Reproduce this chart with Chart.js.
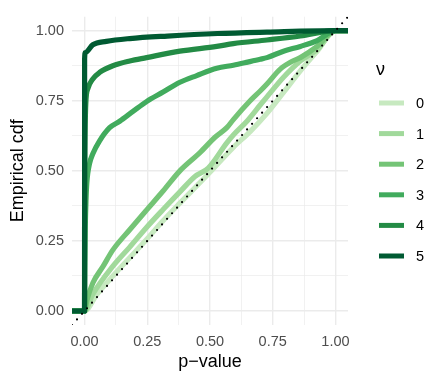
<!DOCTYPE html>
<html>
<head>
<meta charset="utf-8">
<script src="https://cdn.jsdelivr.net/npm/chart.js@4.4.0/dist/chart.umd.min.js"></script>
<style>
  html, body { margin: 0; padding: 0; background: #fff; }
</style>
</head>
<body>
<canvas id="chart" width="445" height="382"></canvas>
<script>
// legend levels and colours (Greens)
const nuLevels = ["0", "1", "2", "3", "4", "5"];
const nuColors = ["#C7E9C0", "#A1D99B", "#74C476", "#41AB5D", "#238B45", "#005A32"];

// axis ticks
const xMajor = [0, 0.25, 0.5, 0.75, 1];
const xMinor = [0.125, 0.375, 0.625, 0.875];
const xTickLabels = ["0.00", "0.25", "0.50", "0.75", "1.00"];
const yMajor = [0, 0.25, 0.5, 0.75, 1];
const yMinor = [0.125, 0.375, 0.625, 0.875];
const yTickLabels = ["0.00", "0.25", "0.50", "0.75", "1.00"];

// empirical cdf (p-value, cdf)
const p0   = [-0.05, 0, 0.05, 0.113, 0.18, 0.247, 0.313, 0.38, 0.473, 0.513, 0.593, 0.66, 0.727, 0.793, 0.86, 0.927, 1, 1.05];
const cdf0 = [0, 0, 0.06, 0.125, 0.19, 0.255, 0.322, 0.385, 0.47, 0.508, 0.584, 0.64, 0.705, 0.78, 0.857, 0.927, 1, 1];

const p1   = [-0.05, 0, 0.033, 0.113, 0.18, 0.247, 0.313, 0.38, 0.44, 0.493, 0.567, 0.593, 0.65, 0.7, 0.727, 0.793, 0.86, 0.927, 1, 1.05];
const cdf1 = [0, 0, 0.06, 0.16, 0.228, 0.298, 0.362, 0.425, 0.48, 0.51, 0.6, 0.628, 0.68, 0.735, 0.764, 0.834, 0.892, 0.933, 1, 1];

const p2   = [-0.05, 0, 0.01, 0.033, 0.073, 0.113, 0.18, 0.247, 0.313, 0.38, 0.46, 0.52, 0.567, 0.593, 0.66, 0.7, 0.727, 0.78, 0.83, 0.86, 0.927, 1, 1.05];
const cdf2 = [0, 0, 0.04, 0.1, 0.158, 0.218, 0.29, 0.36, 0.428, 0.5, 0.565, 0.62, 0.654, 0.683, 0.75, 0.785, 0.81, 0.863, 0.892, 0.904, 0.944, 1, 1];

const p3   = [-0.05, 0, 0.001, 0.003, 0.006, 0.009, 0.02, 0.033, 0.06, 0.1, 0.14, 0.193, 0.247, 0.313, 0.38, 0.447, 0.527, 0.593, 0.65, 0.7, 0.727, 0.793, 0.86, 0.927, 1, 1.05];
const cdf3 = [0, 0, 0.15, 0.3, 0.4, 0.456, 0.526, 0.561, 0.607, 0.654, 0.677, 0.712, 0.747, 0.781, 0.816, 0.84, 0.866, 0.877, 0.888, 0.898, 0.904, 0.927, 0.944, 0.965, 1, 1];

const p4   = [-0.05, 0, 0.0005, 0.002, 0.005, 0.013, 0.033, 0.06, 0.113, 0.18, 0.247, 0.38, 0.527, 0.593, 0.727, 0.86, 1, 1.05];
const cdf4 = [0, 0, 0.35, 0.6, 0.74, 0.793, 0.828, 0.851, 0.875, 0.892, 0.904, 0.927, 0.944, 0.954, 0.967, 0.981, 1, 1];

const p5   = [-0.05, 0, 0.0003, 0.003, 0.033, 0.087, 0.18, 0.33, 0.53, 0.727, 1, 1.05];
const cdf5 = [0, 0, 0.9, 0.922, 0.95, 0.962, 0.972, 0.981, 0.99, 0.995, 1, 1];

// reference line y = x
const refX = [-0.05, 1.05];
const refY = [-0.05, 1.05];

const pLists = [p0, p1, p2, p3, p4, p5];
const cdfLists = [cdf0, cdf1, cdf2, cdf3, cdf4, cdf5];

const toPoints = (xs, ys) => xs.map((x, i) => ({ x, y: ys[i] }));
const near = (list, v) => list.findIndex(m => Math.abs(m - v) < 1e-9);

const datasets = nuLevels.map((nu, i) => ({
  label: nu,
  data: toPoints(pLists[i], cdfLists[i]),
  borderColor: nuColors[i],
  backgroundColor: nuColors[i],
  borderWidth: 5.2,
  borderJoinStyle: "round",
  cubicInterpolationMode: "monotone",
  pointRadius: 0,
  showLine: true,
  fill: false,
  order: 10 - i   // ν = 5 ends up on top
}));

datasets.push({
  label: "ref",
  data: toPoints(refX, refY),
  borderColor: "#000",
  borderWidth: 2.2,
  borderDash: [0, 7.5],
  borderCapStyle: "round",
  pointRadius: 0,
  showLine: true,
  fill: false,
  order: 0
});

// ggplot-like legend on the right
const nuLegend = {
  id: "nuLegend",
  afterDraw(chart) {
    const ctx = chart.ctx;
    ctx.save();
    ctx.fillStyle = "#000";
    ctx.font = "18px 'Liberation Sans', Arial, sans-serif";
    ctx.textBaseline = "middle";
    ctx.textAlign = "left";
    ctx.fillText("ν", 376, 70);
    ctx.font = "14.5px 'Liberation Sans', Arial, sans-serif";
    chart.data.datasets.filter(d => nuLevels.includes(d.label)).forEach((d, i) => {
      const y = 103 + i * 30.6;
      ctx.strokeStyle = d.borderColor;
      ctx.lineWidth = 5;
      ctx.beginPath();
      ctx.moveTo(379, y);
      ctx.lineTo(404, y);
      ctx.stroke();
      ctx.fillStyle = "#000";
      ctx.fillText(d.label, 416, y + 1);
    });
    ctx.restore();
  }
};

const gridWidth = (major) => (ctx) => near(major, ctx.tick.value) >= 0 ? 1.4 : 0.7;

new Chart(document.getElementById("chart"), {
  type: "scatter",
  data: { datasets },
  plugins: [nuLegend],
  options: {
    responsive: false,
    animation: false,
    layout: { padding: { left: 0, right: 97, top: 10, bottom: 0 } },
    plugins: { legend: { display: false }, tooltip: { enabled: false } },
    scales: {
      x: {
        type: "linear",
        min: -0.05,
        max: 1.05,
        afterBuildTicks: s => { s.ticks = [...xMajor, ...xMinor].sort((a, b) => a - b).map(v => ({ value: v })); },
        afterFit: s => { s.height = 57; },
        border: { display: false },
        grid: { color: "#EBEBEB", lineWidth: gridWidth(xMajor), drawTicks: false },
        ticks: {
          autoSkip: false, maxRotation: 0, padding: 8, color: "#4D4D4D",
          font: { family: "'Liberation Sans', Arial, sans-serif", size: 14.5 },
          callback: v => { const k = near(xMajor, v); return k >= 0 ? xTickLabels[k] : ""; }
        },
        title: {
          display: true, text: "p−value", color: "#000",
          font: { family: "'Liberation Sans', Arial, sans-serif", size: 18 },
          padding: { top: 0, bottom: 9 }
        }
      },
      y: {
        type: "linear",
        min: -0.05,
        max: 1.05,
        afterBuildTicks: s => { s.ticks = [...yMajor, ...yMinor].sort((a, b) => a - b).map(v => ({ value: v })); },
        afterFit: s => { s.width = 72; },
        border: { display: false },
        grid: { color: "#EBEBEB", lineWidth: gridWidth(yMajor), drawTicks: false },
        ticks: {
          autoSkip: false, padding: 8, color: "#4D4D4D",
          font: { family: "'Liberation Sans', Arial, sans-serif", size: 14.5 },
          callback: v => { const k = near(yMajor, v); return k >= 0 ? yTickLabels[k] : ""; }
        },
        title: {
          display: true, text: "Empirical cdf", color: "#000",
          font: { family: "'Liberation Sans', Arial, sans-serif", size: 18 },
          padding: { top: 7, bottom: 0 }
        }
      }
    }
  }
});
</script>
</body>
</html>
